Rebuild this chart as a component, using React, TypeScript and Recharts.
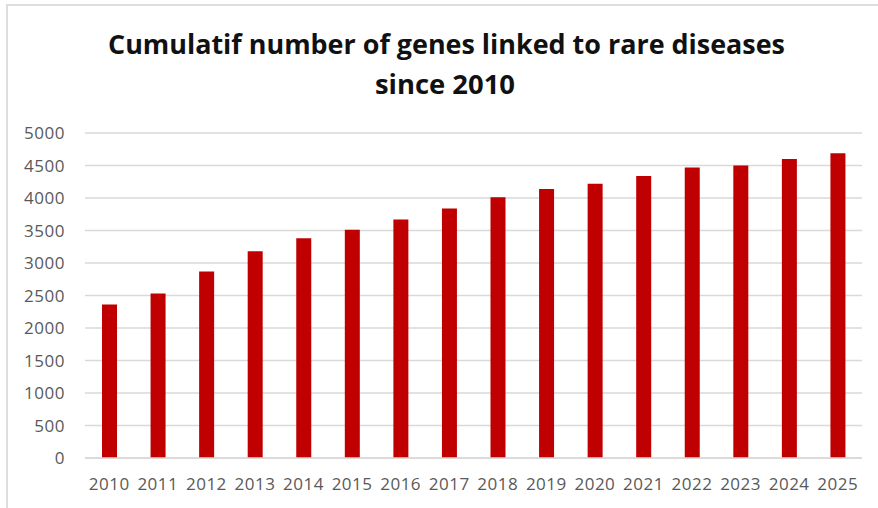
import React from "react";
import { Bar, BarChart, CartesianGrid, XAxis, YAxis } from "recharts";

const years = [
  "2010", "2011", "2012", "2013", "2014", "2015", "2016", "2017",
  "2018", "2019", "2020", "2021", "2022", "2023", "2024", "2025"
];

const geneCounts = [
  2360, 2530, 2870, 3180, 3380, 3510, 3670, 3840,
  4010, 4140, 4220, 4340, 4470, 4500, 4600, 4690
];

const yTicks = [0, 500, 1000, 1500, 2000, 2500, 3000, 3500, 4000, 4500, 5000];

const titleLines = ["Cumulatif number of genes linked to rare diseases", "since 2010"];

const data = years.map((year, i) => ({ year, genes: geneCounts[i] }));

const tickStyle = { fill: "#595959", fontSize: 17, letterSpacing: 0.5 };

export default function App() {
  return (
    <div
      style={{
        position: "absolute",
        left: 0,
        top: 0,
        width: 878,
        height: 508,
        background: "#fff",
        fontFamily: "'Open Sans', sans-serif",
        overflow: "hidden"
      }}
    >
      {/* frame of the original screenshot */}
      <div
        style={{
          position: "absolute",
          left: 6,
          top: 4,
          right: 0,
          bottom: 0,
          borderTop: "2px solid #dedede",
          borderLeft: "2px solid #dedede"
        }}
      />
      <div style={{ position: "absolute", left: 0, top: 0 }}>
        <BarChart
          width={878}
          height={508}
          data={data}
          margin={{ top: 133, right: 16, bottom: 0, left: 0 }}
        >
          <CartesianGrid stroke="#d9d9d9" strokeWidth={1.5} vertical={false} />
          <XAxis
            dataKey="year"
            height={50}
            interval={0}
            tickLine={false}
            tickSize={0}
            tickMargin={20}
            axisLine={{ stroke: "#d9d9d9", strokeWidth: 1.5 }}
            tick={tickStyle}
          />
          <YAxis
            width={85}
            domain={[0, 5000]}
            ticks={yTicks}
            axisLine={false}
            tickLine={false}
            tickSize={0}
            tickMargin={20}
            tick={tickStyle}
          />
          <Bar dataKey="genes" fill="#C00000" barSize={15} isAnimationActive={false} />
        </BarChart>
      </div>
      <svg
        width={878}
        height={110}
        style={{ position: "absolute", left: 0, top: 0, pointerEvents: "none" }}
      >
        <text
          x={446.5}
          y={54}
          textAnchor="middle"
          fontSize={26}
          fontWeight={700}
          fill="#111"
          textLength={677}
          lengthAdjust="spacingAndGlyphs"
        >
          {titleLines[0]}
        </text>
        <text
          x={445}
          y={94}
          textAnchor="middle"
          fontSize={26}
          fontWeight={700}
          fill="#111"
          textLength={140}
          lengthAdjust="spacingAndGlyphs"
        >
          {titleLines[1]}
        </text>
      </svg>
    </div>
  );
}
